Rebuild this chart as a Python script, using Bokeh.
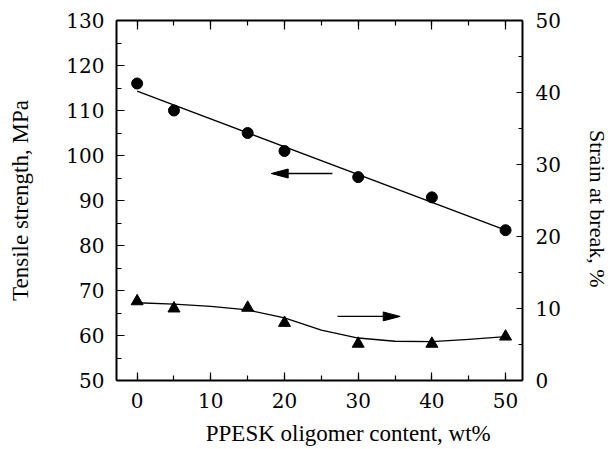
import numpy as np
from bokeh.plotting import figure
from bokeh.models import (Range1d, LinearAxis, SingleIntervalTicker, CustomJSTickFormatter)
from bokeh.embed import file_html
from bokeh.resources import INLINE

# PPESK oligomer content (wt%)
content = [0, 5, 15, 20, 30, 40, 50]
# Tensile strength (MPa), left axis
tensile = [116.0, 110.0, 105.0, 101.0, 95.2, 90.7, 83.4]
# Strain at break (%), right axis
strain = [11.0, 10.0, 10.1, 8.0, 5.1, 5.1, 6.1]

# Hand-drawn smooth trend through the strain data
trend_x = [0, 5, 10, 15, 20, 25, 30, 35, 40, 45, 50]
trend_strain = [10.8, 10.6, 10.3, 9.8, 8.7, 7.0, 5.9, 5.45, 5.4, 5.7, 6.1]

tick_interval = 10
TICK_FONT = "DejaVu Serif"
LABEL_FONT = "Liberation Serif"
NBSP = "\u00a0"

p = figure(width=612, height=449, output_backend="svg", toolbar_location=None,
           x_range=Range1d(-2.8, 52.3), y_range=Range1d(50, 130),
           x_axis_location=None, y_axis_location=None,
           min_border_left=116, min_border_right=79,
           min_border_top=20, min_border_bottom=69)
p.extra_y_ranges = {"strain": Range1d(0, 50)}
p.xgrid.visible = False
p.ygrid.visible = False
p.outline_line_color = None
p.background_fill_color = "white"
p.border_fill_color = "white"


def style(ax, major_in, minor_in):
    ax.ticker = SingleIntervalTicker(interval=tick_interval, num_minor_ticks=2)
    ax.axis_line_width = 2
    ax.axis_line_color = "black"
    ax.major_tick_in = major_in
    ax.major_tick_out = 0
    ax.minor_tick_in = minor_in
    ax.minor_tick_out = 0
    ax.major_tick_line_width = 1.2
    ax.minor_tick_line_width = 1.2
    ax.major_tick_line_color = "black"
    ax.minor_tick_line_color = "black"
    ax.major_label_text_font = TICK_FONT
    ax.major_label_text_font_size = "20px"
    ax.major_label_text_color = "black"
    ax.axis_label_text_font = LABEL_FONT
    ax.axis_label_text_font_size = "23px"
    ax.axis_label_text_font_style = "normal"
    ax.axis_label_text_color = "black"


# Title sits a little right of the frame centre
bottom = LinearAxis(axis_label=NBSP * 10 + "PPESK oligomer content, wt%")
style(bottom, 8, 5)
bottom.major_label_standoff = 12
bottom.axis_label_standoff = 10
p.add_layout(bottom, "below")

# Top edge: ticks only, no labels
top = LinearAxis(formatter=CustomJSTickFormatter(code="return ''"))
style(top, 9, 5)
top.major_label_standoff = 0
p.add_layout(top, "above")

left = LinearAxis(axis_label="Tensile strength, MPa")
style(left, 8, 5)
left.major_label_standoff = 12
left.axis_label_standoff = 30
p.add_layout(left, "left")

right = LinearAxis(y_range_name="strain", axis_label=NBSP * 3 + "Strain at break, %")
style(right, 6, 4)
right.axis_label_text_font = "serif"
right.axis_label_text_font_size = "22px"
right.major_label_standoff = 13
right.axis_label_standoff = 21
p.add_layout(right, "right")

# Linear trend of tensile strength
k, b = np.polyfit(content, tensile, 1)
xs_lin = np.array([content[0], content[-1]])
p.line(xs_lin, k * xs_lin + b, line_color="black", line_width=1.3)

# Smooth trend of strain at break
p.line(trend_x, trend_strain, line_color="black", line_width=1.3,
       line_join="round", y_range_name="strain")

p.scatter(content, tensile, marker="circle", size=11, fill_color="black",
          line_color="black")
p.scatter(content, strain, marker="triangle", size=12, fill_color="black",
          line_color="black", y_range_name="strain")

# Direction arrows pointing at the matching axis
# (tail x, tip x, y) in data units; head length in x units, half width in y units
arrow_left = (26.5, 18.2, 96.0)
arrow_right = (27.2, 35.7, 8.9)
head_len = 2.3
head_half_left = 1.0     # tensile units
head_half_right = 0.62   # strain units

tx, hx, y = arrow_left
p.line([tx, hx + head_len * 0.5], [y, y], line_color="black", line_width=1.3)
p.patch([hx, hx + head_len, hx + head_len], [y, y + head_half_left, y - head_half_left],
        fill_color="black", line_color="black")

tx, hx, y = arrow_right
p.line([tx, hx - head_len * 0.5], [y, y], line_color="black", line_width=1.3,
       y_range_name="strain")
p.patch([hx, hx - head_len, hx - head_len], [y, y + head_half_right, y - head_half_right],
        fill_color="black", line_color="black", y_range_name="strain")

open("out.html", "w").write(file_html(p, INLINE))
